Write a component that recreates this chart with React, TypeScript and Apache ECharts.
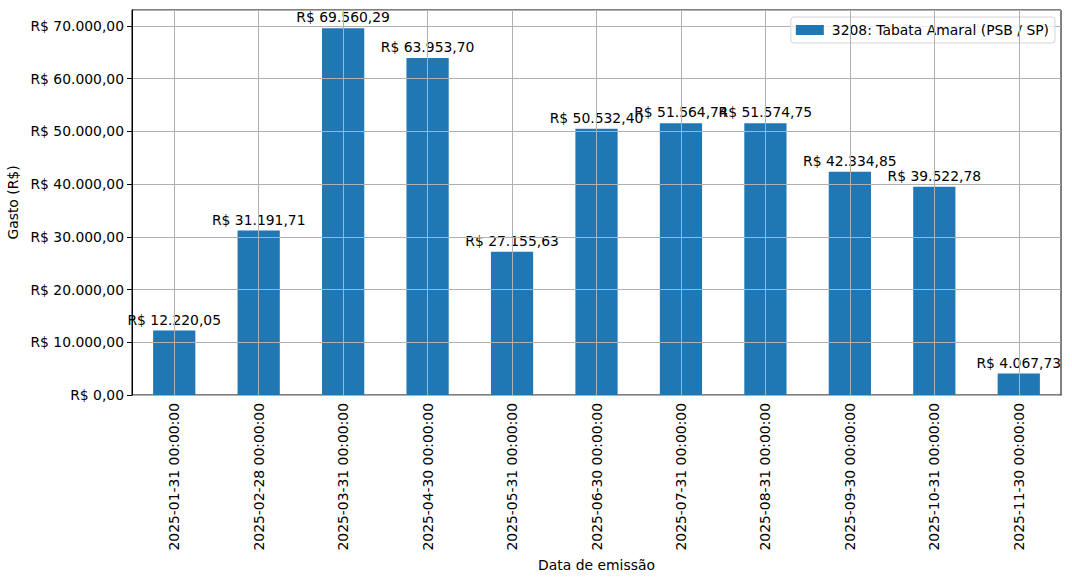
import React, { useEffect, useRef } from 'react';
import * as echarts from 'echarts';

const dates = [
  '2025-01-31 00:00:00',
  '2025-02-28 00:00:00',
  '2025-03-31 00:00:00',
  '2025-04-30 00:00:00',
  '2025-05-31 00:00:00',
  '2025-06-30 00:00:00',
  '2025-07-31 00:00:00',
  '2025-08-31 00:00:00',
  '2025-09-30 00:00:00',
  '2025-10-31 00:00:00',
  '2025-11-30 00:00:00'
];

const gastos = [
  12220.05, 31191.71, 69560.29, 63953.7, 27155.63, 50532.4, 51564.74, 51574.75,
  42334.85, 39522.78, 4067.73
];

const seriesName = '3208: Tabata Amaral (PSB / SP)';

const FONT = "'DejaVu Sans', sans-serif";
const GRID_COLOR = '#b0b0b0';

// formato brasileiro: R$ 12.220,05
const brl = (v: number) => {
  const [int, dec] = v.toFixed(2).split('.');
  return 'R$ ' + int.replace(/\B(?=(\d{3})+(?!\d))/g, '.') + ',' + dec;
};

const App: React.FC = () => {
  const chartRef = useRef<HTMLDivElement>(null);

  useEffect(() => {
    document.body.style.margin = '0';
    if (!chartRef.current) return;
    const chart = echarts.init(chartRef.current, undefined, { renderer: 'svg' });

    const yMax = Math.max(...gastos) * 1.05;

    chart.setOption({
      animation: false,
      textStyle: { fontFamily: FONT },
      grid: {
        left: 132,
        right: 11,
        top: 10,
        bottom: 185,
        outerBoundsMode: 'none',
        containLabel: false,
        show: true,
        borderColor: '#000',
        borderWidth: 1,
        backgroundColor: 'transparent'
      },
      legend: {
        right: 17,
        top: 17,
        itemWidth: 28,
        itemHeight: 10,
        itemGap: 10,
        padding: [6, 6, 6, 5],
        borderColor: '#d5d5d5',
        borderWidth: 1,
        borderRadius: 3,
        backgroundColor: 'rgba(255,255,255,0.8)',
        textStyle: { fontFamily: FONT, fontSize: 13.9, color: '#000', padding: [0, 0, 0, 3] },
        data: [{ name: seriesName, icon: 'rect' }]
      },
      xAxis: {
        type: 'category',
        data: dates,
        name: 'Data de emissão',
        nameLocation: 'middle',
        nameGap: 163,
        nameTextStyle: { fontFamily: FONT, fontSize: 13.9, color: '#000' },
        axisLine: { lineStyle: { color: '#000', width: 1 } },
        axisTick: { alignWithLabel: true, length: 5, lineStyle: { color: '#000' } },
        axisLabel: {
          rotate: 90,
          interval: 0,
          margin: 8,
          fontFamily: FONT,
          fontSize: 13.9,
          color: '#000'
        },
        splitLine: { show: false }
      },
      yAxis: {
        type: 'value',
        min: 0,
        max: yMax,
        interval: 10000,
        z: 3,
        name: 'Gasto (R$)',
        nameLocation: 'middle',
        nameGap: 110,
        nameTextStyle: { fontFamily: FONT, fontSize: 13.9, color: '#000' },
        axisLine: { show: true, lineStyle: { color: '#000', width: 1 } },
        axisTick: { show: true, length: 5, lineStyle: { color: '#000' } },
        axisLabel: {
          margin: 8,
          fontFamily: FONT,
          fontSize: 13.9,
          color: '#000',
          showMaxLabel: false,
          formatter: (v: number) => brl(v)
        },
        splitLine: { show: true, lineStyle: { color: GRID_COLOR, width: 1 } }
      },
      series: [
        {
          name: seriesName,
          type: 'bar',
          data: gastos,
          barWidth: '50%',
          itemStyle: { color: '#1f77b4' },
          label: {
            show: true,
            position: 'top',
            distance: 4,
            fontFamily: FONT,
            fontSize: 13.9,
            color: '#000',
            formatter: (p: any) => brl(p.value)
          },
          markLine: {
            silent: true,
            symbol: 'none',
            label: { show: false },
            lineStyle: { color: GRID_COLOR, width: 1, type: 'solid' },
            data: dates.map((d) => ({ xAxis: d }))
          }
        }
      ]
    });

    return () => {
      chart.dispose();
    };
  }, []);

  return <div ref={chartRef} style={{ width: 1072, height: 580 }} />;
};

export default App;
